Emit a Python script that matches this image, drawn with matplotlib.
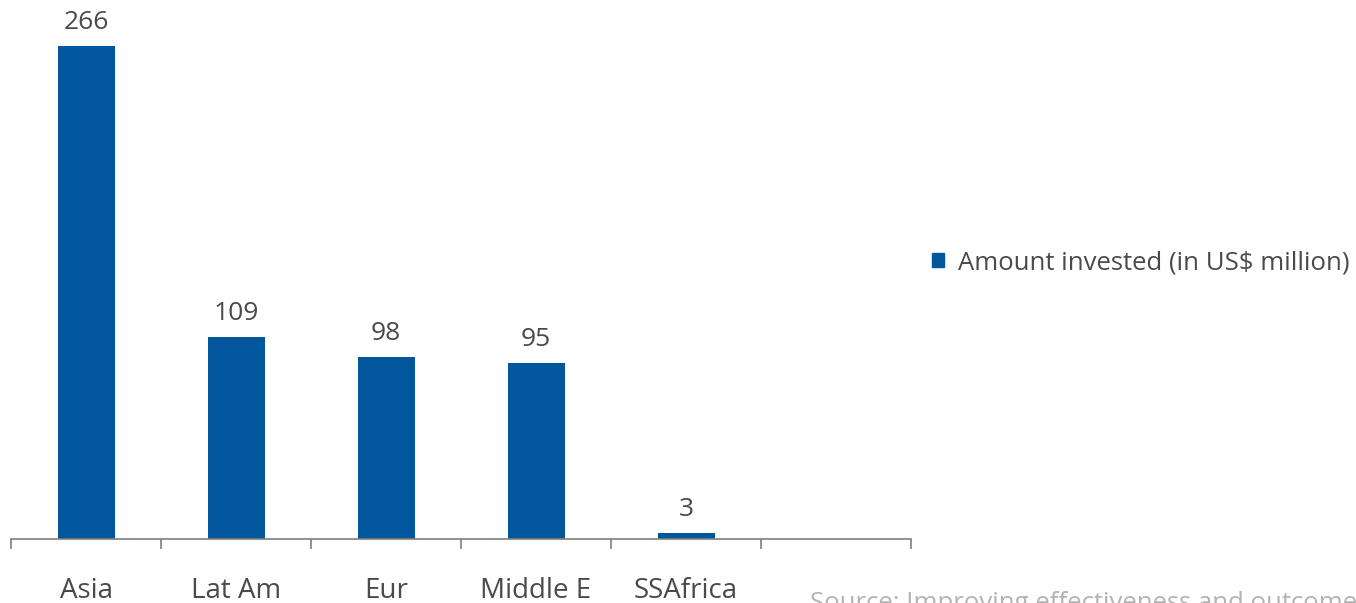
import matplotlib
matplotlib.use("Agg")
import matplotlib.pyplot as plt
from matplotlib.patches import Patch

regions = ["Asia", "Lat Am", "Eur", "Middle E", "SSAfrica", ""]
amounts = [266, 109, 98, 95, 3]
series_name = "Amount invested (in US$ million)"
source_note = "Source: Improving effectiveness and outcomes for the poor in health, nutrition and population"

bar_color = "#02569B"
text_color = "#4A4A4A"

plt.rcParams["font.family"] = ["Open Sans", "DejaVu Sans"]

W, H, DPI = 1356, 603, 100
fig = plt.figure(figsize=(W / DPI, H / DPI), dpi=DPI)

# axes in pixel units: x 11..911, baseline at y=539 (from top)
left, right = 11, 911
base = 539
ax = fig.add_axes([left / W, (H - base) / H, (right - left) / W, base / H])

x = list(range(len(amounts)))
ax.bar(x, amounts, width=0.38, color=bar_color, zorder=2)
ax.set_xlim(-0.5, len(regions) - 0.5)
ax.set_ylim(0, base / 1.853)

for xi, v in zip(x, amounts):
    ax.annotate(str(v), (xi, v), xytext=(0, 8), textcoords="offset points",
                ha="center", va="bottom", fontsize=19, color=text_color)

# category labels at slot centres, tick marks on slot boundaries
ax.set_xticks(range(len(regions)))
ax.set_xticklabels(regions, fontsize=20, color=text_color)
ax.tick_params(axis="x", which="major", length=0, pad=27)
ax.set_xticks([i - 0.5 for i in range(len(regions) + 1)], minor=True)
ax.tick_params(axis="x", which="minor", length=7, width=1.2, color="#7F7F7F", direction="out")

ax.set_yticks([])
for s in ["top", "right", "left"]:
    ax.spines[s].set_visible(False)
ax.spines["bottom"].set_color("#7F7F7F")
ax.spines["bottom"].set_linewidth(1.2)
ax.patch.set_alpha(0)

handle = Patch(facecolor=bar_color, edgecolor=bar_color)
fig.legend([handle], [series_name], loc="center left",
           bbox_to_anchor=(932 / W, 1 - 263 / H), frameon=False,
           fontsize=18.5, labelcolor=text_color, handlelength=0.45, handleheight=0.45,
           handletextpad=0.55, borderaxespad=0, borderpad=0)

fig.text(810 / W, 1 - 610 / H, source_note, fontsize=18.5, color="#B3B3B3",
         ha="left", va="baseline")

fig.savefig("out.png", dpi=DPI)
